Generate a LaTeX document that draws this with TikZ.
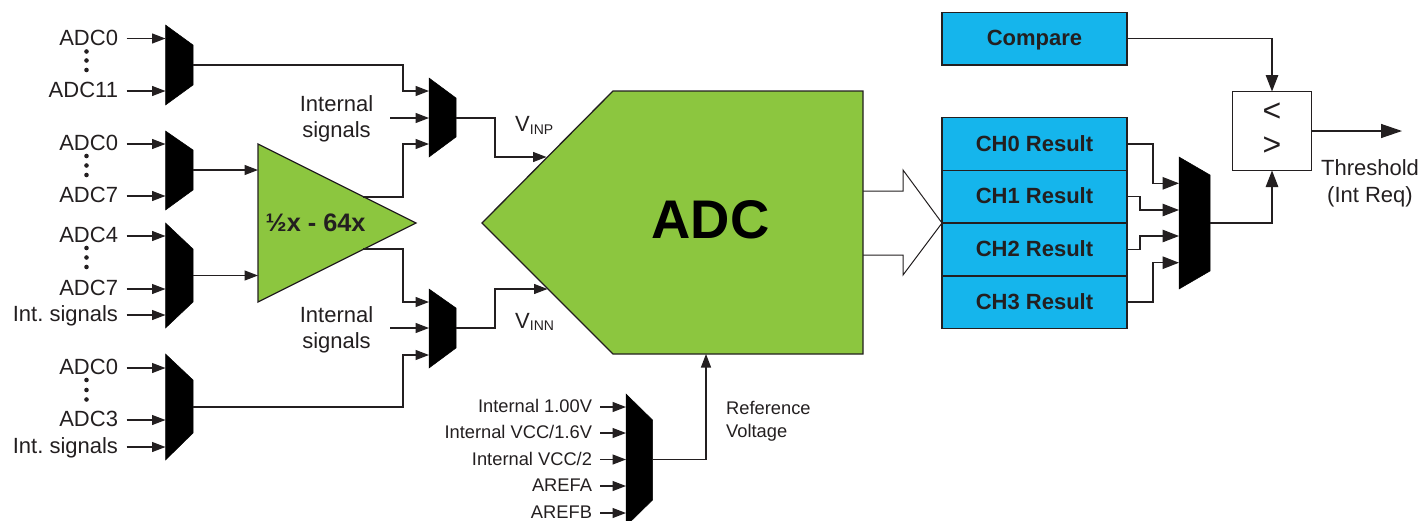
\documentclass[tikz,border=0pt]{standalone}
\usepackage{fontspec}
\setmainfont{Liberation Sans}
\usetikzlibrary{math,arrows.meta}
\definecolor{adcgreen}{HTML}{8CC63F}
\definecolor{regblue}{HTML}{15B5EC}
\definecolor{ink}{HTML}{231F20}
\frenchspacing
\tikzset{
  sig/.style={draw=ink, line width=1.3pt},
  arr/.style={sig, -{Triangle[length=13.5pt,width=10pt]}},
  bigarr/.style={sig, -{Triangle[length=16.5pt,width=12.5pt]}},
  muxbody/.style={fill=black, draw=black, line width=0.5pt},
  inlab/.style={anchor=east, text=ink, font=\fontsize{22}{26}\selectfont, inner xsep=8.5pt, inner ysep=0pt, outer sep=0pt, text height=13pt, text depth=0pt},
  reflab/.style={anchor=east, text=ink, font=\fontsize{18.3}{23}\selectfont, inner xsep=8pt, inner ysep=0pt, outer sep=0pt, text height=11.2pt, text depth=0pt},
  twolines/.style={align=center, text=ink, font=\fontsize{22}{26}\selectfont, inner sep=0pt},
  regbox/.style={draw=ink, line width=1.6pt, fill=regblue, text=ink, font=\fontsize{22}{26}\selectfont\bfseries, minimum width=184.5pt, minimum height=52.7pt, inner sep=0pt, outer sep=0pt, text height=14pt, text depth=0pt}
}
\newcommand{\vsub}[1]{V\raisebox{-2.5pt}{\fontsize{14}{14}\selectfont #1}}
\begin{document}
\begin{tikzpicture}[x=1pt,y=-1pt]
      \tikzmath{\muxl = 165.5; \muxr = 193; \busx = 403; \cmpx = 1272;}
      \useasboundingbox (0,0) rectangle (1423,520);
      \coordinate (muxa) at (\muxl,65);
      \coordinate (muxb) at (\muxl,170);
      \coordinate (muxc) at (\muxl,275.5);
      \coordinate (muxd) at (\muxl,407);
      \coordinate (muxaout) at (\muxr,65);
      \coordinate (muxbout) at (\muxr,170);
      \coordinate (muxcout) at (\muxr,275.5);
      \coordinate (muxdout) at (\muxr,407);
      \coordinate (selp) at (429,118);
      \coordinate (seln) at (429,328);
      \coordinate (selpout) at (456,118);
      \coordinate (selnout) at (456,328);
      \coordinate (selpa) at (429,91);
      \coordinate (selpc) at (429,144);
      \coordinate (selna) at (429,302);
      \coordinate (selnc) at (429,355);
      \coordinate (ampin) at (258,223);
      \coordinate (ampa) at (363,197);
      \coordinate (ampb) at (363,249);
      \coordinate (adcp) at (546.5,157);
      \coordinate (adcn) at (547.5,289);
      \coordinate (adcref) at (706,354);
      \coordinate (muxref) at (626,459.5);
      \coordinate (muxrefout) at (652.5,459.5);
      \coordinate (muxres) at (1179,223);
      \coordinate (muxresout) at (1210,223);
      \coordinate (thrend) at (1402,131);
      \fill[muxbody] (\muxl,25) -- (\muxr,45) -- (\muxr,85) -- (\muxl,105) -- cycle;
      \fill[muxbody] (\muxl,131) -- (\muxr,150) -- (\muxr,190) -- (\muxl,210) -- cycle;
      \fill[muxbody] (\muxl,223) -- (\muxr,249) -- (\muxr,302) -- (\muxl,328) -- cycle;
      \fill[muxbody] (\muxl,354) -- (\muxr,380) -- (\muxr,433) -- (\muxl,460) -- cycle;
      \fill[muxbody] (429,78) -- (456,98) -- (456,137) -- (429,157) -- cycle;
      \fill[muxbody] (429,289) -- (456,308) -- (456,348) -- (429,368) -- cycle;
      \fill[muxbody] (626,394) -- (652.5,420) -- (652.5,500) -- (626,526) -- cycle;
      \fill[muxbody] (1179,157) -- (1210,175) -- (1210,271) -- (1179,289) -- cycle;
      \node[inlab] (adca) at (126.5,38.5) {ADC0};
      \node[inlab] (adcb) at (126.5,91) {ADC11};
      \node[inlab] (adcc) at (126.5,144) {ADC0};
      \node[inlab] (adcd) at (126.5,196) {ADC7};
      \node[inlab] (adce) at (126.5,236) {ADC4};
      \node[inlab] (adcf) at (126.5,289) {ADC7};
      \node[inlab] (intc) at (126.5,315) {Int. signals};
      \node[inlab] (adcg) at (126.5,368) {ADC0};
      \node[inlab] (adch) at (126.5,420) {ADC3};
      \node[inlab] (intd) at (126.5,447) {Int. signals};
      \foreach \y in {51.5,60.5,70,156,165.5,175,248,257.5,267,380,390,399.5}
        \fill[ink] (86.5,\y) circle (2.3pt);
      \draw[arr] (adca.east) -- (adca.east -| muxa);
      \draw[arr] (adcb.east) -- (adcb.east -| muxa);
      \draw[arr] (adcc.east) -- (adcc.east -| muxb);
      \draw[arr] (adcd.east) -- (adcd.east -| muxb);
      \draw[arr] (adce.east) -- (adce.east -| muxc);
      \draw[arr] (adcf.east) -- (adcf.east -| muxc);
      \draw[arr] (intc.east) -- (intc.east -| muxc);
      \draw[arr] (adcg.east) -- (adcg.east -| muxd);
      \draw[arr] (adch.east) -- (adch.east -| muxd);
      \draw[arr] (intd.east) -- (intd.east -| muxd);
      \draw[draw=ink, line width=1.3pt, fill=adcgreen] (258,144) -- (416,223) -- (258,302) -- cycle;
      \node[anchor=base west, inner sep=0pt, text=ink, font=\fontsize{25.3}{26}\selectfont\bfseries] (gainlab) at (265.5,231) {½x - 64x};
      \draw[arr] (muxbout) -- (muxbout -| ampin);
      \draw[arr] (muxcout) -- (muxcout -| ampin);
      \node[twolines] (intp) at (336.5,119) {Internal\\signals};
      \node[twolines] (intn) at (336.5,329.5) {Internal\\signals};
      \coordinate (intpend) at (390,118);
      \coordinate (intnend) at (390,328);
      \draw[arr] (intpend) -- (selp);
      \draw[arr] (intnend) -- (seln);
      \draw[arr] (muxaout) -- (\busx,65) -- (\busx,91) -- (selpa);
      \draw[arr] (ampa) -- (\busx,197) -- (\busx,144) -- (selpc);
      \draw[arr] (ampb) -- (\busx,249) -- (\busx,302) -- (selna);
      \draw[arr] (muxdout) -- (\busx,407) -- (\busx,355) -- (selnc);
      \draw[draw=ink, line width=1pt, fill=white] (863,191) -- (903,191) -- (903,170) -- (942,223) -- (903,275) -- (903,255) -- (863,255);
      \draw[draw=ink, line width=1.3pt, fill=adcgreen] (482,223) -- (613,91) -- (863,91) -- (863,354) -- (613,354) -- cycle;
      \node[inner sep=0pt, font=\fontsize{54.4}{60}\selectfont\bfseries] (adclab) at (710.5,220) {ADC};
      \draw[arr] (selpout) -- (495,118) -- (495,157) -- (adcp);
      \draw[arr] (selnout) -- (495,328) -- (495,289) -- (adcn);
      \node[anchor=base west, inner sep=0pt, text=ink, font=\fontsize{22}{26}\selectfont] (vinp) at (515,131.5) {\vsub{INP}};
      \node[anchor=base west, inner sep=0pt, text=ink, font=\fontsize{22}{26}\selectfont] (vinn) at (515,328) {\vsub{INN}};
      \node[reflab] (refa) at (600,407) {Internal 1.00V};
      \node[reflab] (refb) at (600,433) {Internal VCC/1.6V};
      \node[reflab] (refc) at (600,459.5) {Internal VCC/2};
      \node[reflab] (refd) at (600,486) {AREFA};
      \node[reflab] (refe) at (600,513) {AREFB};
      \draw[arr] (refa.east) -- (refa.east -| muxref);
      \draw[arr] (refb.east) -- (refb.east -| muxref);
      \draw[arr] (refc.east) -- (refc.east -| muxref);
      \draw[arr] (refd.east) -- (refd.east -| muxref);
      \draw[arr] (refe.east) -- (refe.east -| muxref);
      \draw[arr] (muxrefout) -| (adcref);
      \node[anchor=west, align=left, inner sep=0pt, text=ink, font=\fontsize{18.3}{23}\selectfont] (reflab) at (726,421.5) {Reference\\Voltage};
      \node[regbox] (compare) at (1034.5,38.7) {Compare};
      \node[regbox] (chz) at (1034.5,144) {CH0 Result};
      \node[regbox] (cha) at (1034.5,196.7) {CH1 Result};
      \node[regbox] (chb) at (1034.5,249.4) {CH2 Result};
      \node[regbox] (chc) at (1034.5,302.1) {CH3 Result};
      \draw[bigarr] (chz.east) -- (1153,144) -- (1153,183.3) -- (1179,183.3);
      \draw[bigarr] (cha.east) -- (1140,196.7) -- (1140,210) -- (1179,210);
      \draw[bigarr] (chb.east) -- (1140,249.4) -- (1140,236) -- (1179,236);
      \draw[bigarr] (chc.east) -- (1153,302.1) -- (1153,262.7) -- (1179,262.7);
      \node[draw=ink, line width=1.3pt, fill=white, minimum size=79pt, inner sep=0pt, outer sep=0pt] (cmp) at (\cmpx,131) {};
      \node[inner sep=0pt, text=ink, font=\fontsize{32}{32}\selectfont] (cmplt) at (\cmpx,112.5) {<};
      \node[inner sep=0pt, text=ink, font=\fontsize{32}{32}\selectfont] (cmpgt) at (\cmpx,146) {>};
      \draw[bigarr] (compare.east) -| (cmp.north);
      \draw[bigarr] (muxresout) -| (cmp.south);
      \draw[sig, -{Triangle[length=21pt,width=14pt]}] (cmp.east) -- (thrend);
      \node[twolines, font=\fontsize{22}{27}\selectfont] (thrlab) at (1370,183.5) {Threshold\\(Int Req)};
    \end{tikzpicture}
\end{document}
